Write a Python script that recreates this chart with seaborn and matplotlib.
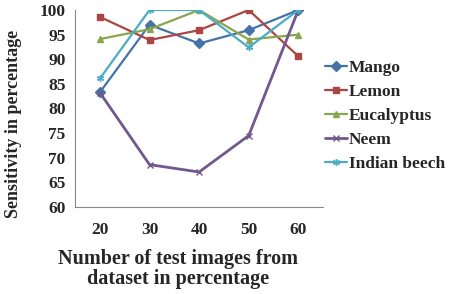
import pandas as pd
import matplotlib
matplotlib.use('Agg')
import matplotlib.pyplot as plt
import seaborn as sns

# Data
test_sizes = ['20', '30', '40', '50', '60']
mango = [83.3, 97.0, 93.2, 95.9, 100.0]
lemon = [98.6, 93.9, 95.9, 100.0, 90.6]
eucalyptus = [94.1, 96.1, 100.0, 94.0, 95.0]
neem = [83.2, 68.6, 67.1, 74.5, 100.0]
indian_beech = [86.1, 100.0, 100.0, 92.4, 100.0]

series_names = ['Mango', 'Lemon', 'Eucalyptus', 'Neem', 'Indian beech']
series_values = [mango, lemon, eucalyptus, neem, indian_beech]
colors = ['#4572A7', '#AA4643', '#89A54E', '#71588F', '#4BACC6']
markers = ['D', 's', '^', 'x', (6, 2, 0)]
widths = [1.6, 1.6, 1.6, 2.0, 1.6]

sns.set_style('white')
plt.rcParams['font.family'] = ['Liberation Serif', 'DejaVu Serif']
plt.rcParams['font.weight'] = 'bold'

fig = plt.figure(figsize=(4.5, 2.94), dpi=100)
ax = fig.add_axes([0.167, 0.296, 0.551, 0.67])

# one call per series so filled and line markers can be mixed
for name, vals, col, mk, lw in zip(series_names, series_values, colors, markers, widths):
    d = pd.DataFrame({'size': test_sizes, 'sens': vals})
    sns.lineplot(data=d, x='size', y='sens', color=col, marker=mk,
                 markersize=5, linewidth=lw, markeredgewidth=1.0,
                 markeredgecolor=col, label=name, ax=ax)

ax.set_ylim(60, 100)
ax.set_yticks(range(60, 101, 5))
ax.set_xlim(-0.5, 4.5)
ax.set_xticks(range(len(test_sizes)))
ax.set_xticklabels(test_sizes)
ax.set_xticks([i - 0.5 for i in range(len(test_sizes) + 1)], minor=True)
ax.tick_params(axis='x', which='major', length=0, pad=11, labelsize=12.5)
ax.tick_params(axis='x', which='minor', length=4, color='#888888', direction='out')
ax.tick_params(axis='y', length=4, color='#888888', direction='out', labelsize=12.5, pad=3)
for lbl in ax.get_xticklabels() + ax.get_yticklabels():
    lbl.set_fontweight('bold')

sns.despine(ax=ax)
for side in ['left', 'bottom']:
    ax.spines[side].set_color('#888888')
    ax.spines[side].set_linewidth(0.8)

ax.set_ylabel('Sensitivity in percentage', fontsize=13, fontweight='bold')
ax.yaxis.set_label_coords(-0.215, 0.42)
ax.set_xlabel('Number of test images from\ndataset in percentage', fontsize=14.5,
              fontweight='bold', linespacing=1.0)
ax.xaxis.set_label_coords(0.415, -0.215)

ax.legend(loc='center left', bbox_to_anchor=(1.0, 0.462), frameon=False,
          prop={'family': 'Liberation Serif', 'weight': 'bold', 'size': 12.5},
          handlelength=1.3, handletextpad=0.1, labelspacing=0.45,
          borderaxespad=0.0, borderpad=0.1)

fig.savefig('out.png', dpi=100)
